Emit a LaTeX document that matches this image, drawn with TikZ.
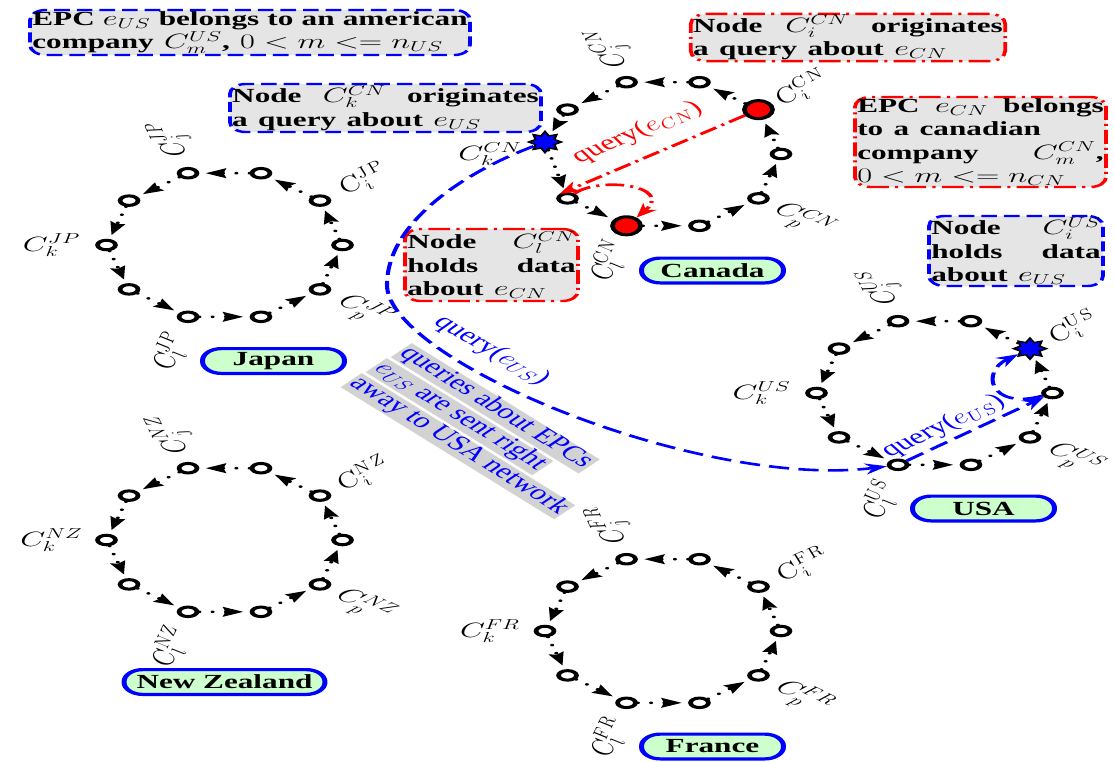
\documentclass[tikz,border=0pt]{standalone}
\usepackage{fontspec}
\setmainfont{Liberation Serif}
\usetikzlibrary{arrows.meta,shapes.geometric}

% nodes of the rings that differ from the plain ones
\expandafter\def\csname nodesty-cn1\endcsname{hotnode}
\expandafter\def\csname nodesty-cn7\endcsname{hotnode}
\expandafter\def\csname nodesty-cn5\endcsname{cnstar}
\expandafter\def\csname nodesty-us1\endcsname{starnode}

\tikzset{
  ringnode/.style={ellipse, draw=black, line width=3pt, fill=white,
    minimum width=11.5pt, minimum height=9.5pt, inner sep=0pt},
  hotnode/.style={circle, draw=black, line width=3pt, fill=red,
    minimum size=18pt, inner sep=0pt},
  starnode/.style={star, star points=8, star point ratio=1.6, draw=black,
    line width=1.4pt, fill=blue, minimum size=21pt, inner sep=0pt},
  cnstar/.style={starnode, yshift=12pt},
  ringedge/.style={line width=2.6pt, line cap=round, dash pattern=on 0pt off 8.5pt,
    -{Stealth[length=13pt,width=9.5pt,inset=1.5pt]}, shorten >=4pt},
  ringlabel/.style={font=\fontsize{22}{26}\selectfont, inner sep=0pt},
  country/.style={draw=blue, line width=3.2pt, fill=green!20, rounded corners=12pt,
    minimum width=91pt, minimum height=24.8pt, inner xsep=8pt, inner ysep=0pt,
    font=\bfseries\fontsize{20}{24}\selectfont},
  notebox/.style={fill=gray!20, rounded corners=10pt, line width=2.4pt,
    inner xsep=1.5pt, inner ysep=1pt, align=left,
    font=\bfseries\fontsize{20}{23.5}\selectfont},
  bluedash/.style={draw=blue, dash pattern=on 10pt off 4.5pt},
  reddashdot/.style={draw=red, dash pattern=on 14pt off 4pt on 2pt off 4pt},
  bluequery/.style={draw=blue, line width=2.6pt, dash pattern=on 13pt off 6pt,
    -{Stealth[length=14pt,width=11pt]}},
  redquery/.style={draw=red, line width=2.6pt, dash pattern=on 12pt off 4pt on 2pt off 4pt,
    -{Stealth[length=14pt,width=11pt]}},
  qlabel/.style={font=\fontsize{21}{24}\selectfont, inner sep=1pt},
  strip/.style={fill=gray!35, text=blue, rotate=-44, anchor=west,
    inner xsep=1.5pt, inner ysep=0pt, text height=14pt, text depth=5.5pt,
    font=\fontsize{21}{24}\selectfont},
}

\begin{document}
\begin{tikzpicture}[x=1pt,y=-1pt]
\useasboundingbox (0,0) rectangle (1114,761);
% everything is laid out in image pixels and widened by the canvas scale
\begin{scope}[transform canvas={xscale=1.56}, x=0.641026pt, y=-1pt]

% the five rings of company nodes
\foreach \rg/\cx/\cy/\cty in {jp/224.5/245/JP, cn/663/154/CN, us/934.5/393/US,
                              nz/224.5/540/NZ, fr/663/631/FR}{
  \foreach \idx in {0,...,9}{
    \edef\sty{\ifcsname nodesty-\rg\idx\endcsname\csname nodesty-\rg\idx\endcsname\else ringnode\fi}
    \node[\sty] (\rg-\idx) at ({\cx+118*cos(36*\idx)}, {\cy-75.5*sin(36*\idx)}) {};
  }
  \foreach \idx/\lbl/\rot in {1/i/36, 3/j/108, 5/k/0, 7/l/72, 9/p/-36}{
    \node[ringlabel, rotate=\rot] (\rg-lab\lbl)
      at ({\cx+173*cos(36*\idx)}, {\cy-112*sin(36*\idx)}) {$C_{\lbl}^{\cty}$};
  }
  \foreach \idx in {0,...,9}{
    \pgfmathtruncatemacro\nxt{mod(\idx+1,10)}
    \draw[ringedge] (\rg-\idx) -- (\rg-\nxt);
  }
}

% country tags
\node[country] (jp-name) at (273.5,361) {Japan};
\node[country] (cn-name) at (712.5,270.5) {Canada};
\node[country] (us-name) at (983.5,508.5) {USA};
\node[country] (nz-name) at (224.5,682) {New Zealand};
\node[country] (fr-name) at (712.5,746.5) {France};

% notes
\node[notebox, bluedash, text width=279pt, minimum height=45pt] (note-us-epc) at (250,32.5)
  {EPC\hfill $e_{US}$\hfill belongs\hfill to\hfill an\hfill american\\
   company $C_m^{US}$, $0 < m <= n_{US}$};
\node[notebox, bluedash, text width=196.5pt, minimum height=48pt] (note-cn-k) at (385.5,108)
  {Node\hfill $C_k^{CN}$\hfill originates\\ a query about $e_{US}$};
\node[notebox, reddashdot, text width=198.5pt, minimum height=47pt] (note-cn-i) at (848,37.5)
  {Node\hfill $C_i^{CN}$\hfill originates\\ a query about $e_{CN}$};
\node[notebox, reddashdot, text width=158pt, minimum height=90pt] (note-cn-epc) at (980.5,142)
  {EPC\hfill $e_{CN}$\hfill belongs\\ to a canadian\\
   company\hfill $C_m^{CN}$,\\ $0 < m <= n_{CN}$};
\node[notebox, bluedash, text width=108.5pt, minimum height=70pt] (note-us-i) at (1016,251)
  {Node\hfill $C_i^{US}$\\ holds\hfill data\\ about $e_{US}$};
\node[notebox, reddashdot, text width=108pt, minimum height=72pt] (note-cn-l) at (491.5,265)
  {Node\hfill $C_l^{CN}$\\ holds\hfill data\\ about $e_{CN}$};

% slanted remark
\node[strip] (remark-1) at (401,350) {queries about EPCs};
\node[strip] (remark-2) at (376,365) {$e_{US}$ are sent right};
\node[strip] (remark-3) at (351,380) {away to USA network};

% query inside Canada
\draw[redquery] (cn-1) -- node[pos=0.47, sloped, above=12pt, qlabel, text=red]
  {query($e_{CN}$)} (cn-6.north west);
\draw[redquery] (cn-6) .. controls (600,176) and (675,186) .. (cn-7);

% query forwarded to the USA
\coordinate (bend) at (387,285);
\draw[bluequery] (cn-5) .. controls (470,170) and (387,220) .. (bend)
  .. controls (387,360) and (700,490) .. node[pos=0.32, sloped, above=10pt, qlabel, text=blue]
  {query($e_{US}$)} (us-7);
\draw[bluequery] (us-7) -- node[pos=0.36, sloped, above=2pt, qlabel, text=blue]
  {query($e_{US}$)} (us-0);
\draw[bluequery] (us-0) .. controls (990,410) and (980,372) .. (us-1);

\end{scope}
\end{tikzpicture}
\end{document}
